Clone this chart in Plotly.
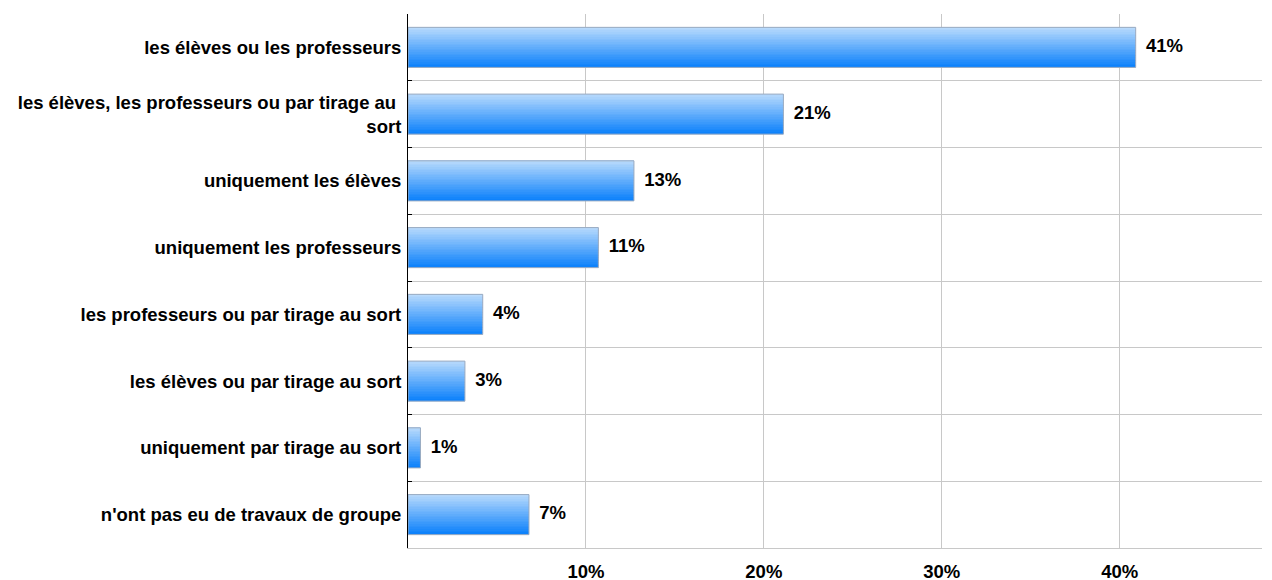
import plotly.graph_objects as go

# catégories (de haut en bas) et parts estimées en %
categories = [
    "les élèves ou les professeurs",
    "les élèves, les professeurs ou par tirage au <br>sort",
    "uniquement les élèves",
    "uniquement les professeurs",
    "les professeurs ou par tirage au sort",
    "les élèves ou par tirage au sort",
    "uniquement par tirage au sort",
    "n'ont pas eu de travaux de groupe",
]
values = [40.9, 21.1, 12.7, 10.7, 4.2, 3.2, 0.7, 6.8]
x_ticks = [10, 20, 30, 40]
x_tick_labels = ["10%", "20%", "30%", "40%"]

FONT = "Liberation Sans, Arial, sans-serif"
top_rgb = (184, 218, 252)
bottom_rgb = (14, 130, 251)

bar_w = 0.6
n_strips = 24

fig = go.Figure()

# dégradé vertical simulé par des bandes superposées
for i in range(n_strips):
    t = i / (n_strips - 1)
    c = tuple(round(a + (b - a) * t) for a, b in zip(top_rgb, bottom_rgb))
    fig.add_trace(go.Bar(
        x=values, y=categories, orientation="h",
        width=bar_w / n_strips,
        offset=-bar_w / 2 + i * bar_w / n_strips,
        marker=dict(color="rgb(%d,%d,%d)" % c, line=dict(width=0)),
        showlegend=False, hoverinfo="skip",
    ))

# contour
fig.add_trace(go.Bar(
    x=values, y=categories, orientation="h", width=bar_w,
    marker=dict(color="rgba(0,0,0,0)", line=dict(color="#9aaac0", width=1)),
    showlegend=False, hoverinfo="skip",
))

# étiquettes de valeurs
fig.add_trace(go.Scatter(
    x=values, y=categories, mode="text",
    text=["  %d%%" % round(v) for v in values],
    textposition="middle right",
    textfont=dict(family=FONT, size=18.5, color="black", weight="bold"),
    showlegend=False, hoverinfo="skip",
))

# la page a une marge de 8 px autour du graphique
fig.update_layout(
    width=1272, height=580,
    margin=dict(l=400, r=18, t=6, b=40),
    paper_bgcolor="white", plot_bgcolor="white",
    barmode="overlay",
    font=dict(family=FONT, size=18.5, color="black"),
)
fig.update_xaxes(
    range=[0, 48], tickvals=x_ticks, ticktext=x_tick_labels,
    tickfont=dict(family=FONT, size=18.5, color="black", weight="bold"),
    showgrid=True, gridcolor="#c8c8c8", gridwidth=1,
    showline=True, linecolor="#c8c8c8", zeroline=False,
    ticks="", fixedrange=True, automargin=False, ticklabelstandoff=7,
)
fig.update_yaxes(
    categoryorder="array", categoryarray=categories,
    autorange="reversed", tickson="boundaries",
    showgrid=True, gridcolor="#c8c8c8", gridwidth=1,
    showline=True, linecolor="black", linewidth=1,
    ticks="inside", ticklen=4, tickcolor="black",
    tickfont=dict(family=FONT, size=18.5, color="black", weight="bold"),
    ticklabelstandoff=2, automargin=False,
)

fig.write_html("out.html")
